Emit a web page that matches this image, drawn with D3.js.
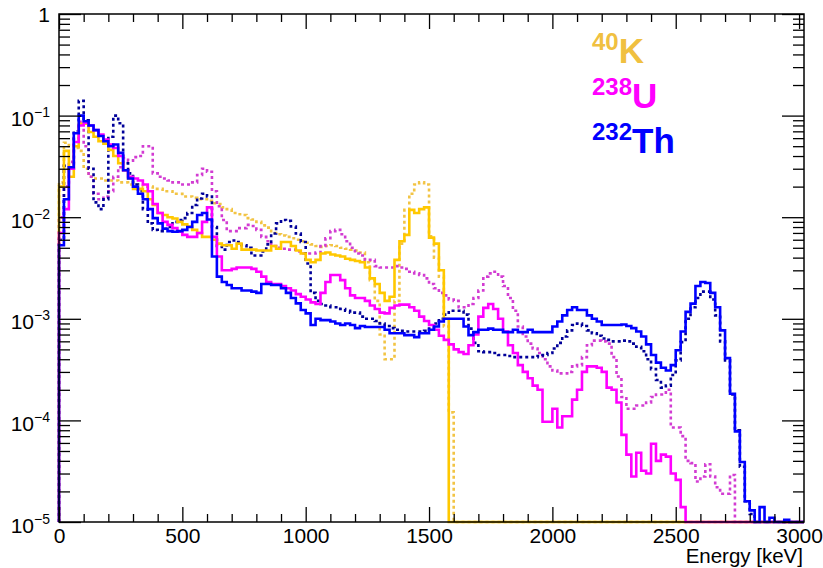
<!DOCTYPE html>
<html>
<head>
<meta charset="utf-8">
<script src="https://cdn.jsdelivr.net/npm/d3@7.9.0/dist/d3.min.js"></script>
<style>
  html, body { margin: 0; padding: 0; background: #fff; }
  svg { display: block; }
  text { font-family: "Liberation Sans", Arial, Helvetica, sans-serif; fill: #000; }
</style>
</head>
<body>
<svg id="chart" width="823" height="568"></svg>
<script>
// histogram binning (keV)
const binWidth = 20;
const energyMax = 3020;
const xTickValues = [0, 500, 1000, 1500, 2000, 2500, 3000];
const yTickExponents = [-5, -4, -3, -2, -1, 0];

// 40K
const k40Solid = [
  0.02, 0.045, 0.025, 0.05, 0.083, 0.083, 0.069, 0.062, 0.056, 0.053,
  0.046, 0.04, 0.034, 0.029, 0.024, 0.019, 0.019, 0.018, 0.015, 0.0132,
  0.011, 0.0105, 0.01, 0.0097, 0.009, 0.0085, 0.0081, 0.0075, 0.007, 0.0064,
  0.0064, 0.006, 0.0055, 0.0053, 0.0053, 0.0049, 0.0055, 0.0048, 0.0048, 0.0048,
  0.0047, 0.0047, 0.0047, 0.0052, 0.0049, 0.0057, 0.0057, 0.0052, 0.0047, 0.0044,
  0.0038, 0.0036, 0.0038, 0.0044, 0.0045, 0.0043, 0.0042, 0.0041, 0.0039, 0.0038,
  0.0037, 0.0036, 0.0032, 0.0025, 0.0022, 0.0018, 0.0015, 0.00165, 0.0038, 0.0058,
  0.0067, 0.0118, 0.011, 0.012, 0.0125, 0.0063, 0.0055, 0.003, 0.001, 0,
  0, 0, 0, 0, 0, 0, 0, 0, 0, 0,
  0, 0, 0, 0, 0, 0, 0, 0, 0, 0,
  0, 0, 0, 0, 0, 0, 0, 0, 0, 0,
  0, 0, 0, 0, 0, 0, 0, 0, 0, 0,
  0, 0, 0, 0, 0, 0, 0, 0, 0, 0,
  0, 0, 0, 0, 0, 0, 0, 0, 0, 0,
  0, 0, 0, 0, 0, 0, 0, 0, 0, 0,
  0
];
const k40Dotted = [
  0.022, 0.054, 0.05, 0.048, 0.045, 0.03, 0.025, 0.024, 0.024, 0.023,
  0.023, 0.023, 0.022, 0.022, 0.021, 0.021, 0.021, 0.02, 0.02, 0.019,
  0.019, 0.018, 0.018, 0.017, 0.017, 0.016, 0.016, 0.0155, 0.015, 0.015,
  0.0145, 0.0137, 0.0135, 0.0125, 0.012, 0.011, 0.0107, 0.0105, 0.0098, 0.0095,
  0.009, 0.0083, 0.0079, 0.007, 0.0068, 0.0066, 0.0064, 0.0062, 0.006, 0.0058,
  0.0056, 0.0054, 0.0052, 0.0051, 0.0052, 0.0053, 0.0052, 0.005, 0.0049, 0.0048,
  0.0047, 0.0045, 0.0036, 0.0024, 0.0015, 0.0007, 0.0004, 0.0004, 0.0015, 0.0055,
  0.0118, 0.017, 0.021, 0.022, 0.021, 0.0065, 0.004, 0.0026, 0.00084, 0.00012,
  0, 0, 0, 0, 0, 0, 0, 0, 0, 0,
  0, 0, 0, 0, 0, 0, 0, 0, 0, 0,
  0, 0, 0, 0, 0, 0, 0, 0, 0, 0,
  0, 0, 0, 0, 0, 0, 0, 0, 0, 0,
  0, 0, 0, 0, 0, 0, 0, 0, 0, 0,
  0, 0, 0, 0, 0, 0, 0, 0, 0, 0,
  0, 0, 0, 0, 0, 0, 0, 0, 0, 0,
  0
];

// 238U
const u238Solid = [
  0.007, 0.012, 0.03, 0.055, 0.08, 0.085, 0.08, 0.072, 0.065, 0.058,
  0.052, 0.048, 0.04, 0.029, 0.025, 0.024, 0.023, 0.021, 0.018, 0.0135,
  0.011, 0.009, 0.0084, 0.0078, 0.0072, 0.0067, 0.0064, 0.0064, 0.007, 0.009,
  0.0125, 0.0064, 0.0041, 0.003, 0.003, 0.0031, 0.0032, 0.0032, 0.0032, 0.0031,
  0.0029, 0.0026, 0.0023, 0.0022, 0.0022, 0.0021, 0.002, 0.0019, 0.00175, 0.00165,
  0.00155, 0.00145, 0.0014, 0.0018, 0.0023, 0.0027, 0.0027, 0.0024, 0.002, 0.0017,
  0.0016, 0.0016, 0.0015, 0.00135, 0.00125, 0.00115, 0.00113, 0.00128, 0.00135, 0.00138,
  0.00138, 0.0013, 0.0012, 0.00105, 0.00095, 0.00087, 0.00078, 0.00068, 0.00062, 0.00056,
  0.0005, 0.00047, 0.00045, 0.00055, 0.0007, 0.00105, 0.00128, 0.0014, 0.00125, 0.001,
  0.00075, 0.00055, 0.00046, 0.00035, 0.0003, 0.00026, 0.00022, 0.0002, 0.000097, 0.000097,
  0.00013, 0.000085, 0.00011, 0.00011, 0.00016, 0.0002, 0.0003, 0.00034, 0.00034, 0.00033,
  0.0003, 0.00021, 0.0002, 0.00015, 0.000072, 0.000046, 0.000028, 0.000048, 0.000032, 0.00003,
  0.000059, 0.00004, 0.000046, 0.000044, 0.00003, 0.000026, 0.000014, 0, 0, 0,
  0, 0, 0, 0, 0, 0, 0, 0, 0, 0,
  0, 0, 0, 0, 0, 0, 0, 0, 0, 0,
  0
];
const u238Dotted = [
  0.01, 0.02, 0.035, 0.06, 0.087, 0.05, 0.025, 0.017, 0.015, 0.016,
  0.018, 0.025, 0.031, 0.038, 0.036, 0.039, 0.04, 0.05, 0.05, 0.027,
  0.025, 0.024, 0.023, 0.022, 0.022, 0.021, 0.021, 0.022, 0.026, 0.03,
  0.028, 0.018, 0.0128, 0.0094, 0.0073, 0.0073, 0.0078, 0.0078, 0.0084, 0.0082,
  0.0075, 0.0064, 0.0058, 0.0052, 0.005, 0.0049, 0.0048, 0.0048, 0.0046, 0.0044,
  0.0044, 0.0044, 0.0045, 0.0052, 0.0062, 0.0073, 0.0075, 0.0068, 0.0058, 0.005,
  0.0044, 0.0042, 0.0038, 0.0038, 0.0033, 0.0032, 0.0032, 0.0032, 0.0033, 0.0032,
  0.0031, 0.0029, 0.0028, 0.0027, 0.0025, 0.0022, 0.002, 0.0018, 0.0017, 0.00155,
  0.0015, 0.0013, 0.0013, 0.0014, 0.0016, 0.0019, 0.0026, 0.0028, 0.0029, 0.0026,
  0.0021, 0.0016, 0.0012, 0.00084, 0.00067, 0.00057, 0.00051, 0.00046, 0.0004, 0.00034,
  0.00031, 0.00029, 0.00029, 0.0003, 0.00034, 0.00035, 0.00042, 0.00055, 0.00061, 0.00061,
  0.0006, 0.00057, 0.00042, 0.00027, 0.00017, 0.00013, 0.00013, 0.00014, 0.00014, 0.00015,
  0.00017, 0.00018, 0.00018, 0.0002, 0.000085, 0.000085, 0.00007, 0.00004, 0.000038, 0.000025,
  0.000028, 0.000037, 0.000028, 0.000022, 0.000019, 0.000019, 0.000029, 0, 0, 0,
  0, 0, 0, 0, 0, 0, 0, 0, 0, 0,
  0
];

// 232Th
const th232Solid = [
  0.0053, 0.015, 0.031, 0.067, 0.1, 0.088, 0.08, 0.072, 0.063, 0.056,
  0.05, 0.052, 0.043, 0.029, 0.024, 0.02, 0.017, 0.015, 0.012, 0.0098,
  0.0087, 0.0077, 0.0073, 0.0072, 0.0073, 0.0075, 0.008, 0.009, 0.0105, 0.011,
  0.0095, 0.0041, 0.0026, 0.0023, 0.00215, 0.002, 0.002, 0.0019, 0.0019, 0.00185,
  0.0018, 0.0022, 0.0022, 0.00215, 0.00215, 0.002, 0.0018, 0.0016, 0.00142, 0.00122,
  0.00113, 0.00087, 0.001, 0.00097, 0.00097, 0.00094, 0.0009, 0.00087, 0.0009, 0.00087,
  0.00081, 0.00085, 0.00083, 0.00083, 0.00083, 0.00083, 0.00078, 0.00072, 0.00072, 0.00072,
  0.00069, 0.00069, 0.00066, 0.00072, 0.00072, 0.00078, 0.00084, 0.00094, 0.001, 0.001,
  0.001, 0.001, 0.00084, 0.00069, 0.00074, 0.00078, 0.00078, 0.0008, 0.00078, 0.00078,
  0.00074, 0.00074, 0.00078, 0.00074, 0.00074, 0.00078, 0.00074, 0.00074, 0.00074, 0.00074,
  0.00084, 0.00094, 0.00108, 0.00122, 0.0013, 0.00122, 0.00122, 0.00108, 0.001, 0.00094,
  0.00087, 0.00087, 0.00087, 0.00087, 0.00088, 0.00085, 0.00081, 0.00075, 0.00067, 0.00056,
  0.00044, 0.00037, 0.00033, 0.00031, 0.00035, 0.00049, 0.00075, 0.00117, 0.00141, 0.0021,
  0.0023, 0.00225, 0.0018, 0.0013, 0.00077, 0.00041, 0.000183, 0.000078, 0.000039, 0.000016,
  0.000013, 0, 0.000014, 0, 0.000011, 0, 0, 0.0000105, 0, 0,
  0
];
const th232Dotted = [
  0.006, 0.032, 0.03, 0.07, 0.14, 0.09, 0.03, 0.014, 0.012, 0.015,
  0.062, 0.1, 0.084, 0.034, 0.027, 0.021, 0.018, 0.012, 0.0087, 0.0075,
  0.0073, 0.0077, 0.008, 0.009, 0.0094, 0.0098, 0.011, 0.0132, 0.0153, 0.017,
  0.016, 0.008, 0.0052, 0.0048, 0.0057, 0.0059, 0.0057, 0.0053, 0.005, 0.0042,
  0.0042, 0.0046, 0.0054, 0.0069, 0.0087, 0.0094, 0.0092, 0.0081, 0.0069, 0.0057,
  0.0035, 0.0018, 0.0015, 0.0014, 0.00135, 0.0013, 0.0013, 0.00125, 0.0012, 0.00115,
  0.00115, 0.00105, 0.001, 0.001, 0.00095, 0.0009, 0.00085, 0.00081, 0.00078, 0.00076,
  0.00075, 0.00075, 0.00075, 0.00075, 0.00076, 0.0008, 0.0009, 0.001, 0.0011, 0.0012,
  0.0012, 0.0012, 0.0011, 0.0008, 0.00058, 0.00048, 0.00047, 0.00047, 0.00046, 0.00044,
  0.00044, 0.00043, 0.00042, 0.00042, 0.00042, 0.00042, 0.00042, 0.00043, 0.00044, 0.00046,
  0.00051, 0.00058, 0.00067, 0.00077, 0.00087, 0.0009, 0.00085, 0.00077, 0.00072, 0.00068,
  0.00064, 0.00062, 0.0006, 0.0006, 0.00061, 0.0006, 0.00057, 0.00053, 0.00048, 0.0004,
  0.00032, 0.00025, 0.00021, 0.00022, 0.00028, 0.00039, 0.00059, 0.001, 0.0013, 0.0016,
  0.00185, 0.00185, 0.00155, 0.00108, 0.0006, 0.00039, 0.00018, 0.00008, 0.000035, 0.000016,
  0.000012, 0, 0, 0, 0, 0, 0, 0, 0, 0,
  0
];

const svg = d3.select('#chart');
const frameLeft = 59, frameRight = 804, frameTop = 14, frameBottom = 522;

const x = d3.scaleLinear().domain([0, energyMax]).range([frameLeft, frameRight]);
const yMin = 1e-5;
const y = d3.scaleLog().domain([yMin, 1]).range([frameBottom, frameTop]);

// turn bin contents into a step outline, empty bins lie on the axis
function stepPoints(values) {
  let pts = [[0, yMin]];
  values.forEach((v, i) => {
    let yv = Math.max(v, yMin);
    pts.push([i * binWidth, yv], [(i + 1) * binWidth, yv]);
  });
  pts.push([values.length * binWidth, yMin]);
  return pts;
}

const line = d3.line().x(d => x(d[0])).y(d => y(d[1]));

let series = [
  { values: k40Dotted, color: '#f2c444', dash: '3 3' },
  { values: u238Dotted, color: '#d23cd2', dash: '3 3' },
  { values: th232Dotted, color: '#000099', dash: '3 3' },
  { values: k40Solid, color: '#ffc800', dash: null },
  { values: u238Solid, color: '#ff00ff', dash: null },
  { values: th232Solid, color: '#0000ff', dash: null },
];

let plot = svg.append('g');
series.forEach(s => {
  plot.append('path')
    .attr('d', line(stepPoints(s.values)))
    .attr('fill', 'none')
    .attr('stroke', s.color)
    .attr('stroke-width', 2.6)
    .attr('stroke-dasharray', s.dash);
});

// axes, ticks pointing inwards like ROOT
const xMinor = d3.range(0, 3001, 100).filter(v => v % 500 !== 0);
const yMajor = yTickExponents.map(e => Math.pow(10, e));
const yMinor = [];
yTickExponents.slice(0, -1).forEach(e => {
  for (let m = 2; m <= 9; m++) yMinor.push(m * Math.pow(10, e));
});

function noDomain(g) {
  g.select('.domain').remove();
  g.selectAll('line').attr('stroke', '#000').attr('stroke-width', 1.3);
}

svg.append('g').attr('transform', `translate(0,${frameBottom})`)
  .call(d3.axisBottom(x).tickValues(xTickValues).tickSizeInner(-15).tickSizeOuter(0).tickPadding(6).tickFormat(d3.format('d')))
  .call(noDomain)
  .call(g => g.attr('font-family', null).attr('font-size', null))
  .call(g => g.selectAll('text').style('font-size', '21px'));
svg.append('g').attr('transform', `translate(0,${frameBottom})`)
  .call(d3.axisBottom(x).tickValues(xMinor).tickSize(-8).tickFormat(''))
  .call(noDomain);
svg.append('g').attr('transform', `translate(0,${frameTop})`)
  .call(d3.axisTop(x).tickValues(xTickValues).tickSize(-15).tickFormat(''))
  .call(noDomain);
svg.append('g').attr('transform', `translate(0,${frameTop})`)
  .call(d3.axisTop(x).tickValues(xMinor).tickSize(-8).tickFormat(''))
  .call(noDomain);

svg.append('g').attr('transform', `translate(${frameLeft},0)`)
  .call(d3.axisLeft(y).tickValues(yMajor).tickSize(-22).tickFormat(''))
  .call(noDomain);
svg.append('g').attr('transform', `translate(${frameLeft},0)`)
  .call(d3.axisLeft(y).tickValues(yMinor).tickSize(-11).tickFormat(''))
  .call(noDomain);
svg.append('g').attr('transform', `translate(${frameRight},0)`)
  .call(d3.axisRight(y).tickValues(yMajor).tickSize(-22).tickFormat(''))
  .call(noDomain);
svg.append('g').attr('transform', `translate(${frameRight},0)`)
  .call(d3.axisRight(y).tickValues(yMinor).tickSize(-11).tickFormat(''))
  .call(noDomain);

// y labels with exponents
yTickExponents.forEach(e => {
  let t = svg.append('text')
    .attr('x', 50)
    .attr('text-anchor', 'end')
    .style('font-size', '21px');
  if (e === 0) {
    t.attr('y', y(1) + 7.5).text('1');
  } else {
    t.attr('y', y(Math.pow(10, e)) + 10.5);
    t.append('tspan').text('10');
    t.append('tspan').attr('dy', -9).style('font-size', '14px').text('\u2212' + (-e));
  }
});

// frame
svg.append('rect')
  .attr('x', frameLeft).attr('y', frameTop)
  .attr('width', frameRight - frameLeft).attr('height', frameBottom - frameTop)
  .attr('fill', 'none').attr('stroke', '#000').attr('stroke-width', 1.5);

svg.append('text')
  .attr('x', 803).attr('y', 563)
  .attr('text-anchor', 'end')
  .style('font-size', '20.5px')
  .text('Energy [keV]');

// isotope labels
const labels = [
  { mass: '40', name: 'K', color: '#f0c040', y: 63 },
  { mass: '238', name: 'U', color: '#ff00ff', y: 108 },
  { mass: '232', name: 'Th', color: '#0000ff', y: 153 },
];
labels.forEach(l => {
  let t = svg.append('text')
    .attr('x', 592).attr('y', l.y)
    .style('font-weight', 'bold')
    .style('fill', l.color);
  t.append('tspan').attr('dy', -13).style('font-size', '24px').text(l.mass);
  t.append('tspan').attr('dy', 13).style('font-size', '35px').text(l.name);
});
</script>
</body>
</html>
